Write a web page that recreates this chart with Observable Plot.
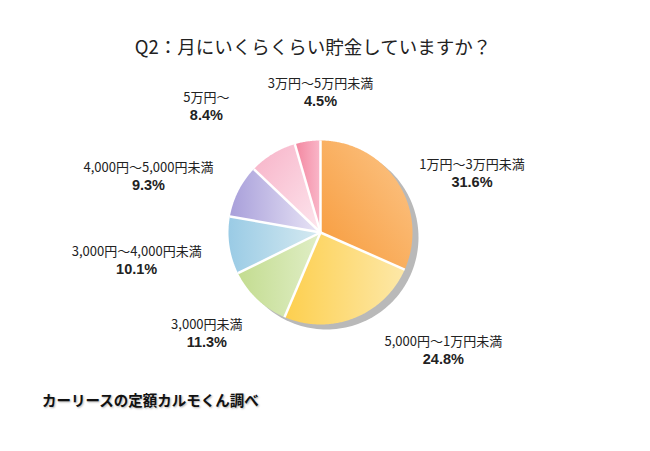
<!DOCTYPE html>
<html><head><meta charset="utf-8">
<script src="https://cdn.jsdelivr.net/npm/d3@7"></script>
<script src="https://cdn.jsdelivr.net/npm/@observablehq/plot@0.6"></script>
<style>
body{margin:0;background:#fff;font-family:"Noto Sans CJK JP","Noto Sans",sans-serif;color:#222;width:650px;height:451px;overflow:hidden}
#title{height:65px;box-sizing:border-box;padding-top:33px;line-height:26px;font-size:18.5px;text-align:center;padding-right:24px;color:#222}
#chart{height:310px}
#cap{font-weight:bold;font-size:14.5px;padding-left:42px;line-height:20px;margin-top:15px;color:#111;text-shadow:1px 1px 2px rgba(0,0,0,0.3)}
</style></head>
<body>
<div id="title">Q2：月にいくらくらい貯金していますか？</div>
<div id="chart"></div>
<div id="cap">カーリースの定額カルモくん調べ</div>
<script>
// data
const categories = ["1万円〜3万円未満","5,000円〜1万円未満","3,000円未満","3,000円〜4,000円未満","4,000円〜5,000円未満","5万円〜","3万円〜5万円未満"];
const values = [31.6, 24.8, 11.3, 10.1, 9.3, 8.4, 4.5];
const valueLabels = ["31.6%","24.8%","11.3%","10.1%","9.3%","8.4%","4.5%"];

// styling / layout (not data)
const gradStops = [["#f79a3a","#fcc689"],["#fdcf4e","#fde8a8"],["#c3dc90","#e0eec6"],["#9acbe5","#d6eaf1"],["#a89fda","#e9e5f6"],["#f7b2c7","#fde6ee"],["#f3869f","#f9b7c9"]];
const gradDir = [[0,1,1,0],[0,0,1,0],[0,0,1,0],[0,0,1,0],[0,0,1,0],[0,0,1,1],[0,0,1,0]];
const labelShift = [11.6,-24.6,5.1,-0.3,-8.5,-10.8,8.1];
const labelDist = [1.77,1.85,1.65,2.02,1.97,1.85,1.53];

const total = d3.sum(values);
let cum = 0;
const slices = [], bounds = [], labels = [];
values.forEach((v,i)=>{
  const a0 = cum/total*2*Math.PI; cum += v; const a1 = cum/total*2*Math.PI;
  const n = Math.max(4, Math.ceil((a1-a0)/0.01));
  const pts = [{x:0,y:0}];
  for(let k=0;k<=n;k++){const a=a0+(a1-a0)*k/n; pts.push({x:Math.sin(a),y:Math.cos(a)});}
  pts.push({x:0,y:0});
  slices.push(pts);
  bounds.push({x1:0,y1:0,x2:Math.sin(a0),y2:Math.cos(a0)});
  const am = (a0+a1)/2 + labelShift[i]*Math.PI/180;
  labels.push({x:Math.sin(am)*labelDist[i], y:Math.cos(am)*labelDist[i], cat:categories[i], val:valueLabels[i]});
});
const circle = d3.range(0,361,2).map(d=>({x:Math.sin(d*Math.PI/180),y:Math.cos(d*Math.PI/180)}));

function defsMark(){
  const ns="http://www.w3.org/2000/svg";
  const g=document.createElementNS(ns,"g");
  const defs=document.createElementNS(ns,"defs");
  gradStops.forEach((s,i)=>{
    const lg=document.createElementNS(ns,"linearGradient");
    lg.setAttribute("id","g"+i);
    const d=gradDir[i];
    lg.setAttribute("x1",d[0]);lg.setAttribute("y1",d[1]);lg.setAttribute("x2",d[2]);lg.setAttribute("y2",d[3]);
    s.forEach((c,j)=>{const st=document.createElementNS(ns,"stop");st.setAttribute("offset",j);st.setAttribute("stop-color",c);lg.appendChild(st);});
    defs.appendChild(lg);
  });
  g.appendChild(defs);
  return g;
}

const cx=320, cy=167, R=92;
const font = '"Noto Sans CJK JP","Noto Sans",sans-serif';
const marks = [defsMark,
  Plot.line(circle,{x:"x",y:"y",fill:"#b9b9b9",stroke:"none",dx:6,dy:5}),
  ...slices.map((pts,i)=>Plot.line(pts,{x:"x",y:"y",fill:`url(#g${i})`,stroke:"none"})),
  Plot.link(bounds,{x1:"x1",y1:"y1",x2:"x2",y2:"y2",stroke:"white",strokeWidth:2.5}),
  Plot.text(labels,{x:"x",y:"y",text:"cat",dy:-8,fontSize:13,fill:"#222",fontFamily:font}),
  Plot.text(labels,{x:"x",y:"y",text:"val",dy:9.5,fontSize:14.5,fontWeight:"bold",fill:"#222",fontFamily:'"Liberation Sans",Arial,sans-serif'})
];
const chart = Plot.plot({
  width:650,height:310,margin:0,
  x:{domain:[-1,1],range:[cx-R,cx+R],axis:null},
  y:{domain:[-1,1],range:[cy+R,cy-R],axis:null},
  style:{fontFamily:font,background:"white"},
  marks
});
document.getElementById("chart").appendChild(chart);
</script>
</body></html>
